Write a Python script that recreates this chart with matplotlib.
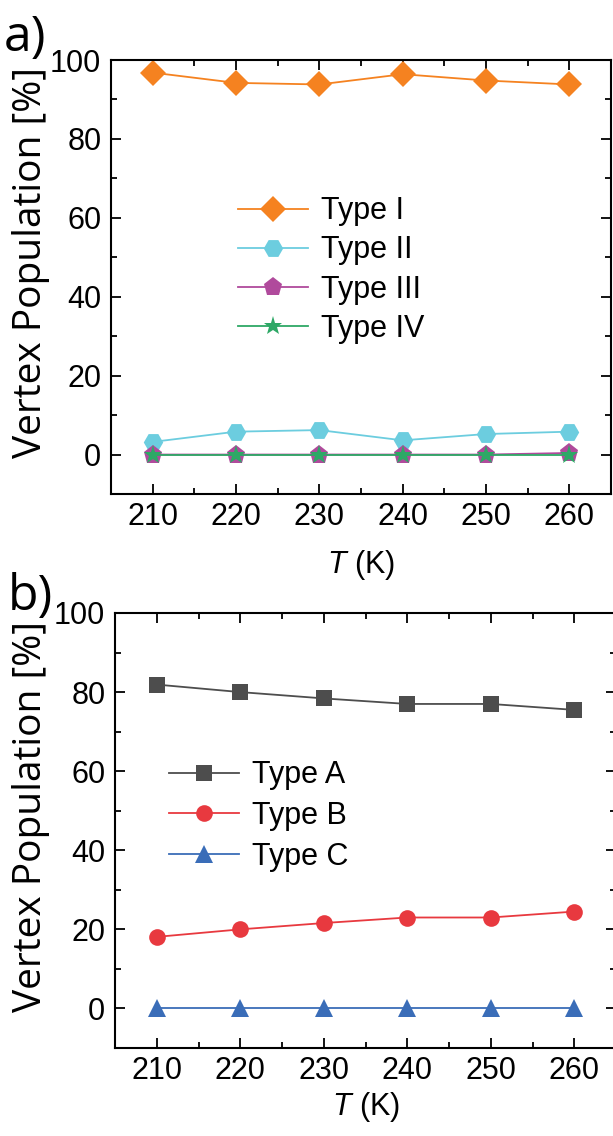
import matplotlib
matplotlib.use("Agg")
import matplotlib.pyplot as plt
from matplotlib.ticker import MultipleLocator

plt.rcParams['font.family'] = ['Liberation Sans', 'DejaVu Sans']
plt.rcParams['mathtext.fontset'] = 'custom'
plt.rcParams['mathtext.it'] = 'Liberation Sans:italic'
plt.rcParams['mathtext.rm'] = 'Liberation Sans'

# Temperatures (K)
temperature = [210, 220, 230, 240, 250, 260]

# Panel a: vertex populations (%) for the four vertex types
type_i = [96.8, 94.2, 93.8, 96.4, 94.8, 93.8]
type_ii = [3.2, 5.8, 6.2, 3.6, 5.2, 5.8]
type_iii = [0.0, 0.0, 0.0, 0.0, 0.0, 0.4]
type_iv = [0.0, 0.0, 0.0, 0.0, 0.0, 0.0]

# Panel b: vertex populations (%) for the three vertex classes
type_a = [81.9, 80.0, 78.4, 77.0, 77.0, 75.5]
type_b = [18.1, 20.0, 21.6, 23.0, 23.0, 24.5]
type_c = [0.0, 0.0, 0.0, 0.0, 0.0, 0.0]

labels_a = ["Type I", "Type II", "Type III", "Type IV"]
labels_b = ["Type A", "Type B", "Type C"]

W, H = 613, 1136
fig = plt.figure(figsize=(W / 100, H / 100), dpi=100)

FS = 22


def make_axes(left, top, right, bottom):
    return fig.add_axes([left / W, 1 - bottom / H, (right - left) / W, (bottom - top) / H])


def style(ax, xlabelpad):
    ax.set_xlim(205, 265)
    ax.set_ylim(-10, 100)
    ax.xaxis.set_major_locator(MultipleLocator(10))
    ax.xaxis.set_minor_locator(MultipleLocator(5))
    ax.yaxis.set_major_locator(MultipleLocator(20))
    ax.yaxis.set_minor_locator(MultipleLocator(10))
    ax.tick_params(which='both', direction='in', top=True, right=True,
                   width=1.3, labelsize=FS)
    ax.tick_params(which='major', length=7)
    ax.tick_params(which='minor', length=4)
    ax.tick_params(axis='x', pad=6)
    ax.tick_params(axis='y', pad=7)
    for s in ax.spines.values():
        s.set_linewidth(1.5)
    ax.set_xlabel(r'$\mathit{T}$ (K)', fontsize=FS, labelpad=xlabelpad)


line_kw = dict(linewidth=1.3, markeredgewidth=0)

# ---- panel a ----
ax1 = make_axes(111, 60, 611, 494)
ax1.plot(temperature, type_i, marker='D', color='#F58220', markersize=13, label=labels_a[0], **line_kw)
ax1.plot(temperature, type_ii, marker='H', color='#6CCDDF', markersize=14, label=labels_a[1], **line_kw)
ax1.plot(temperature, type_iii, marker='p', color='#B04A9C', markersize=14, label=labels_a[2], **line_kw)
ax1.plot(temperature, type_iv, marker='*', color='#2EA866', markersize=14, label=labels_a[3], **line_kw)
style(ax1, 11)
ax1.legend(loc='center left', bbox_to_anchor=(0.254, 0.516), frameon=False, fontsize=FS,
           handlelength=2.3, handletextpad=0.42, labelspacing=0.3, borderpad=0,
           borderaxespad=0)

# ---- panel b ----
ax2 = make_axes(115, 613, 616, 1048)
ax2.plot(temperature, type_a, marker='s', color='#4D4D4D', markersize=11, label=labels_b[0], **line_kw)
ax2.plot(temperature, type_b, marker='o', color='#E8393F', markersize=12, label=labels_b[1], **line_kw)
ax2.plot(temperature, type_c, marker='^', color='#3A6DB8', markersize=13, label=labels_b[2], **line_kw)
style(ax2, 3)
ax2.legend(loc='center left', bbox_to_anchor=(0.108, 0.533), frameon=False, fontsize=FS,
           handlelength=2.3, handletextpad=0.42, labelspacing=0.35, borderpad=0,
           borderaxespad=0)

# panel letters and y-axis titles
fig.text(4 / W, 1 - 38 / H, 'a)', fontsize=36, family='Open Sans', ha='left', va='center')
fig.text(8 / W, 1 - 597 / H, 'b)', fontsize=36, family='Open Sans', ha='left', va='center')
fig.text(31 / W, 1 - 262 / H, 'Vertex Population [%]', fontsize=28, family='Open Sans',
         rotation=90, ha='center', va='center')
fig.text(31 / W, 1 - 817 / H, 'Vertex Population [%]', fontsize=28, family='Open Sans',
         rotation=90, ha='center', va='center')

fig.savefig('out.png', dpi=100)
